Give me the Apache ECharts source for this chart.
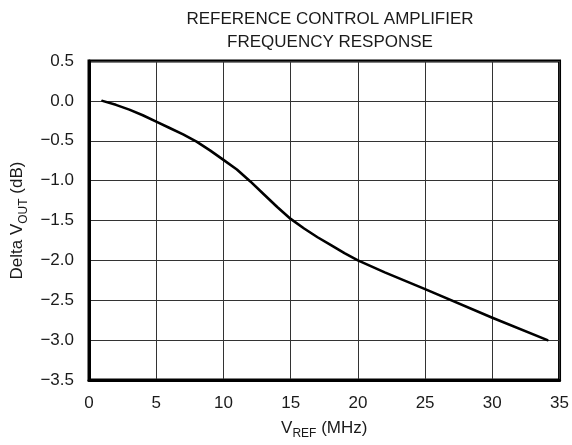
<!DOCTYPE html>
<html>
<head>
<meta charset="utf-8">
<script src="https://cdn.jsdelivr.net/npm/echarts@6/dist/echarts.min.js"></script>
<style>
html,body{margin:0;padding:0;background:#fff;}
#c{width:572px;height:445px;}
</style>
</head>
<body>
<div id="c"></div>
<script>
// Frequency (MHz)
var freqMHz = [1, 2, 3, 4, 5, 6, 7, 8, 9, 10, 11, 12, 13, 14, 15, 16, 17, 18, 19, 20, 22, 25, 30, 34.1];
// Delta VOUT (dB)
var deltaVout = [0, -0.05, -0.11, -0.18, -0.26, -0.34, -0.42, -0.51, -0.62, -0.74, -0.86, -1.01, -1.17, -1.33, -1.48, -1.60, -1.71, -1.81, -1.91, -2.0, -2.15, -2.36, -2.72, -3.0];
var xTickLabels = ['0', '5', '10', '15', '20', '25', '30', '35'];
var yTickLabels = ['0.5', '0.0', '\u22120.5', '\u22121.0', '\u22121.5', '\u22122.0', '\u22122.5', '\u22123.0', '\u22123.5'];
var yTickValues = [0.5, 0, -0.5, -1.0, -1.5, -2.0, -2.5, -3.0, -3.5];
var titleLines = ['REFERENCE CONTROL AMPLIFIER', 'FREQUENCY RESPONSE'];

var font = '"Liberation Sans", Arial, sans-serif';
var txt = '#1a1a1a';
var seriesData = freqMHz.map(function (f, i) { return [f, deltaVout[i]]; });

var chart = echarts.init(document.getElementById('c'), null, {renderer: 'canvas'});
chart.setOption({
  animation: false,
  backgroundColor: '#fff',
  title: {
    text: titleLines.join('\n'),
    left: 325,
    top: 3,
    textAlign: 'center',
    textStyle: {fontFamily: font, fontSize: 17, fontWeight: 'normal', color: txt, lineHeight: 23}
  },
  grid: {left: 89, right: 12, top: 61, bottom: 65, show: true, borderColor: '#000', borderWidth: 3, backgroundColor: 'transparent'},
  xAxis: {
    type: 'value', min: 0, max: 35, interval: 5,
    name: '{n|V}{s|REF}{n| (MHz)}',
    nameLocation: 'middle', nameGap: 36,
    nameTextStyle: {
      fontFamily: font, color: txt,
      rich: {
        n: {fontFamily: font, fontSize: 17, color: txt},
        s: {fontFamily: font, fontSize: 12, color: txt, padding: [12, 0, 0, 0]}
      }
    },
    axisLine: {show: true, onZero: false, lineStyle: {color: '#000', width: 3}},
    axisTick: {show: false},
    splitLine: {show: true, lineStyle: {color: '#333', width: 1}},
    axisLabel: {
      fontFamily: font, fontSize: 17, color: txt, margin: 15,
      formatter: function (v) { return xTickLabels[Math.round(v / 5)]; }
    }
  },
  yAxis: {
    type: 'value', min: -3.5, max: 0.5, interval: 0.5,
    name: '{n|Delta V}{s|OUT}{n| (dB)}',
    nameLocation: 'middle', nameGap: 57, nameRotate: 90,
    nameTextStyle: {
      fontFamily: font, color: txt,
      rich: {
        n: {fontFamily: font, fontSize: 17, color: txt},
        s: {fontFamily: font, fontSize: 12, color: txt, padding: [12, 0, 0, 0]}
      }
    },
    axisLine: {show: true, onZero: false, lineStyle: {color: '#000', width: 3}},
    axisTick: {show: false},
    splitLine: {show: true, lineStyle: {color: '#333', width: 1}},
    axisLabel: {
      fontFamily: font, fontSize: 17, color: txt, margin: 15,
      formatter: function (v) {
        for (var i = 0; i < yTickValues.length; i++) {
          if (Math.abs(yTickValues[i] - v) < 1e-6) return yTickLabels[i];
        }
        return '';
      }
    }
  },
  series: [{
    type: 'line',
    data: seriesData,
    showSymbol: false,
    smooth: false,
    lineStyle: {color: '#000', width: 2.6, join: 'round', cap: 'round'},
    z: 5
  }]
});
</script>
</body>
</html>
